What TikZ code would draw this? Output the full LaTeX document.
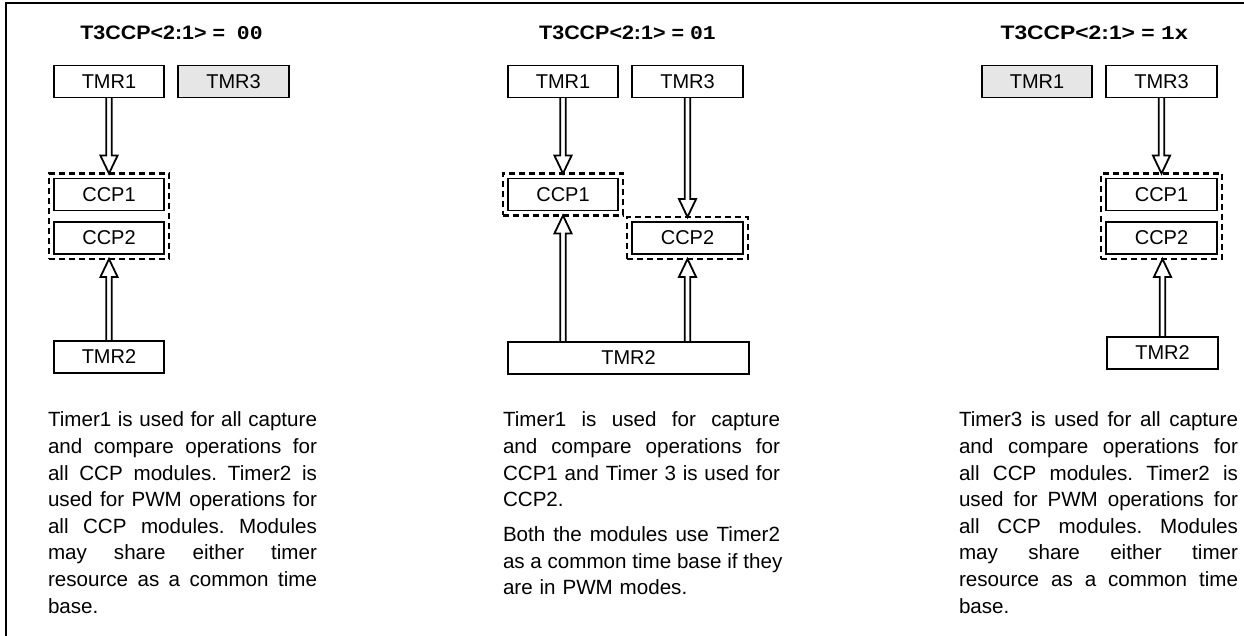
\documentclass[tikz,border=0pt]{standalone}
\usepackage{fontspec}
\setmainfont{Liberation Sans}
\newfontfamily\monofam{Liberation Mono}
\usetikzlibrary{calc,fit}
\definecolor{boxgray}{RGB}{230,230,230}
\newlength{\jw}
\newcommand{\jln}[1]{\hbox to \jw{\frenchspacing\spaceskip=.278em plus 1fil\relax #1}}
\newcommand{\lln}[1]{\hbox{\frenchspacing #1}}
\newcommand{\harrow}[2]{%
  \draw[harr] let \p1=(#1), \p2=(#2), \p3=($(#2)!18pt!(#1)$) in
    (\x1-2.7pt,\y1) -- (\x1-2.7pt,\y3) -- (\x1-8.6pt,\y3) -- (\x1,\y2)
    -- (\x1+8.6pt,\y3) -- (\x1+2.7pt,\y3) -- (\x1+2.7pt,\y1);}
\newcommand{\ttltext}[3]{\scalebox{#1}[1]{T3CCP<2:1> =#2{\monofam\bfseries #3}}}
\begin{document}
\begin{tikzpicture}[x=1pt,y=-1pt,
  tbox/.style={draw, line width=1.8pt, minimum width=110pt, minimum height=32pt,
    inner sep=0pt, outer sep=0pt, font=\fontsize{20}{24}\selectfont},
  gbox/.style={tbox, fill=boxgray},
  dbox/.style={draw, dash pattern=on 6pt off 4pt, line width=2.1pt,
    inner sep=5pt, outer sep=0pt},
  harr/.style={line width=1.8pt, line join=miter},
  ttl/.style={anchor=base, inner sep=0pt, font=\fontsize{19.5}{22}\selectfont\bfseries},
  body/.style={anchor=north west, inner sep=0pt, outer sep=0pt, align=left,
    font=\fontsize{20.6}{26.6}\selectfont}]
\useasboundingbox (0,0) rectangle (1244,636);
\draw[line width=2.3pt] (6.2,637) -- (6.2,2.8) -- (1245,2.8);

% ---------- left panel ----------
\node[ttl] (lt) at (171.5,40) {\ttltext{1.1}{\hspace{0.55em}}{00}};
\node[tbox] (l1) at (109,81.5) {TMR1};
\node[gbox, minimum width=111pt] (l3) at (233.5,81.5) {TMR3};
\node[tbox] (lc1) at (109,194.5) {CCP1};
\node[tbox] (lc2) at (109,238) {CCP2};
\node[dbox, fit=(lc1)(lc2)] (lbox) {};
\node[tbox] (l2) at (109,357) {TMR2};
\harrow{l1.south}{lbox.north}
\harrow{l2.north}{lbox.south}
\node[body, text width=269pt] (ltext) at (48,412) {\setlength{\jw}{269pt}%
\jln{Timer1 is used for all capture}
\jln{and compare operations for}
\jln{all CCP modules. Timer2 is}
\jln{used for PWM operations for}
\jln{all CCP modules. Modules}
\jln{may share either timer}
\jln{resource as a common time}
\lln{base.}};

% ---------- middle panel ----------
\node[ttl] (mt) at (627.5,40) {\ttltext{1.1}{ }{01}};
\node[tbox] (m1) at (563,81.5) {TMR1};
\node[tbox, minimum width=111pt] (m3) at (687.5,81.5) {TMR3};
\node[tbox] (mc1) at (563,194.5) {CCP1};
\node[dbox, fit=(mc1)] (mbox1) {};
\node[tbox, minimum width=111pt] (mc2) at (687.5,238) {CCP2};
\node[dbox, fit=(mc2)] (mbox2) {};
\node[tbox, minimum width=241pt] (m2) at (628.5,358) {TMR2};
\harrow{m1.south}{mbox1.north}
\harrow{m3.south}{mbox2.north}
\harrow{m2.north -| mbox1.south}{mbox1.south}
\harrow{m2.north -| mbox2.south}{mbox2.south}
\node[body, text width=277pt] (mtext) at (503,412) {\setlength{\jw}{277pt}%
\jln{Timer1 is used for capture}
\jln{and compare operations for}
\jln{CCP1 and Timer 3 is used for}
\lln{CCP2.}
\vskip 8.4pt
\jln{Both the modules use Timer2}
\jln{as a common time base if they}
\lln{are in PWM modes.}};

% ---------- right panel ----------
\node[ttl] (rt) at (1094.5,40) {\ttltext{1.17}{ }{1x}};
\node[gbox] (r1) at (1037,81.5) {TMR1};
\node[tbox, minimum width=111pt] (r3) at (1161.5,81.5) {TMR3};
\node[tbox, minimum width=111pt] (rc1) at (1161.5,194.5) {CCP1};
\node[tbox, minimum width=111pt] (rc2) at (1161.5,238) {CCP2};
\node[dbox, fit=(rc1)(rc2)] (rbox) {};
\node[tbox, minimum width=111pt] (r2) at (1162.5,353) {TMR2};
\harrow{r3.south}{rbox.north}
\harrow{r2.north}{r2.north |- rbox.south}
\node[body, text width=279pt] (rtext) at (959,412) {\setlength{\jw}{279pt}%
\jln{Timer3 is used for all capture}
\jln{and compare operations for}
\jln{all CCP modules. Timer2 is}
\jln{used for PWM operations for}
\jln{all CCP modules. Modules}
\jln{may share either timer}
\jln{resource as a common time}
\lln{base.}};
\end{tikzpicture}
\end{document}
